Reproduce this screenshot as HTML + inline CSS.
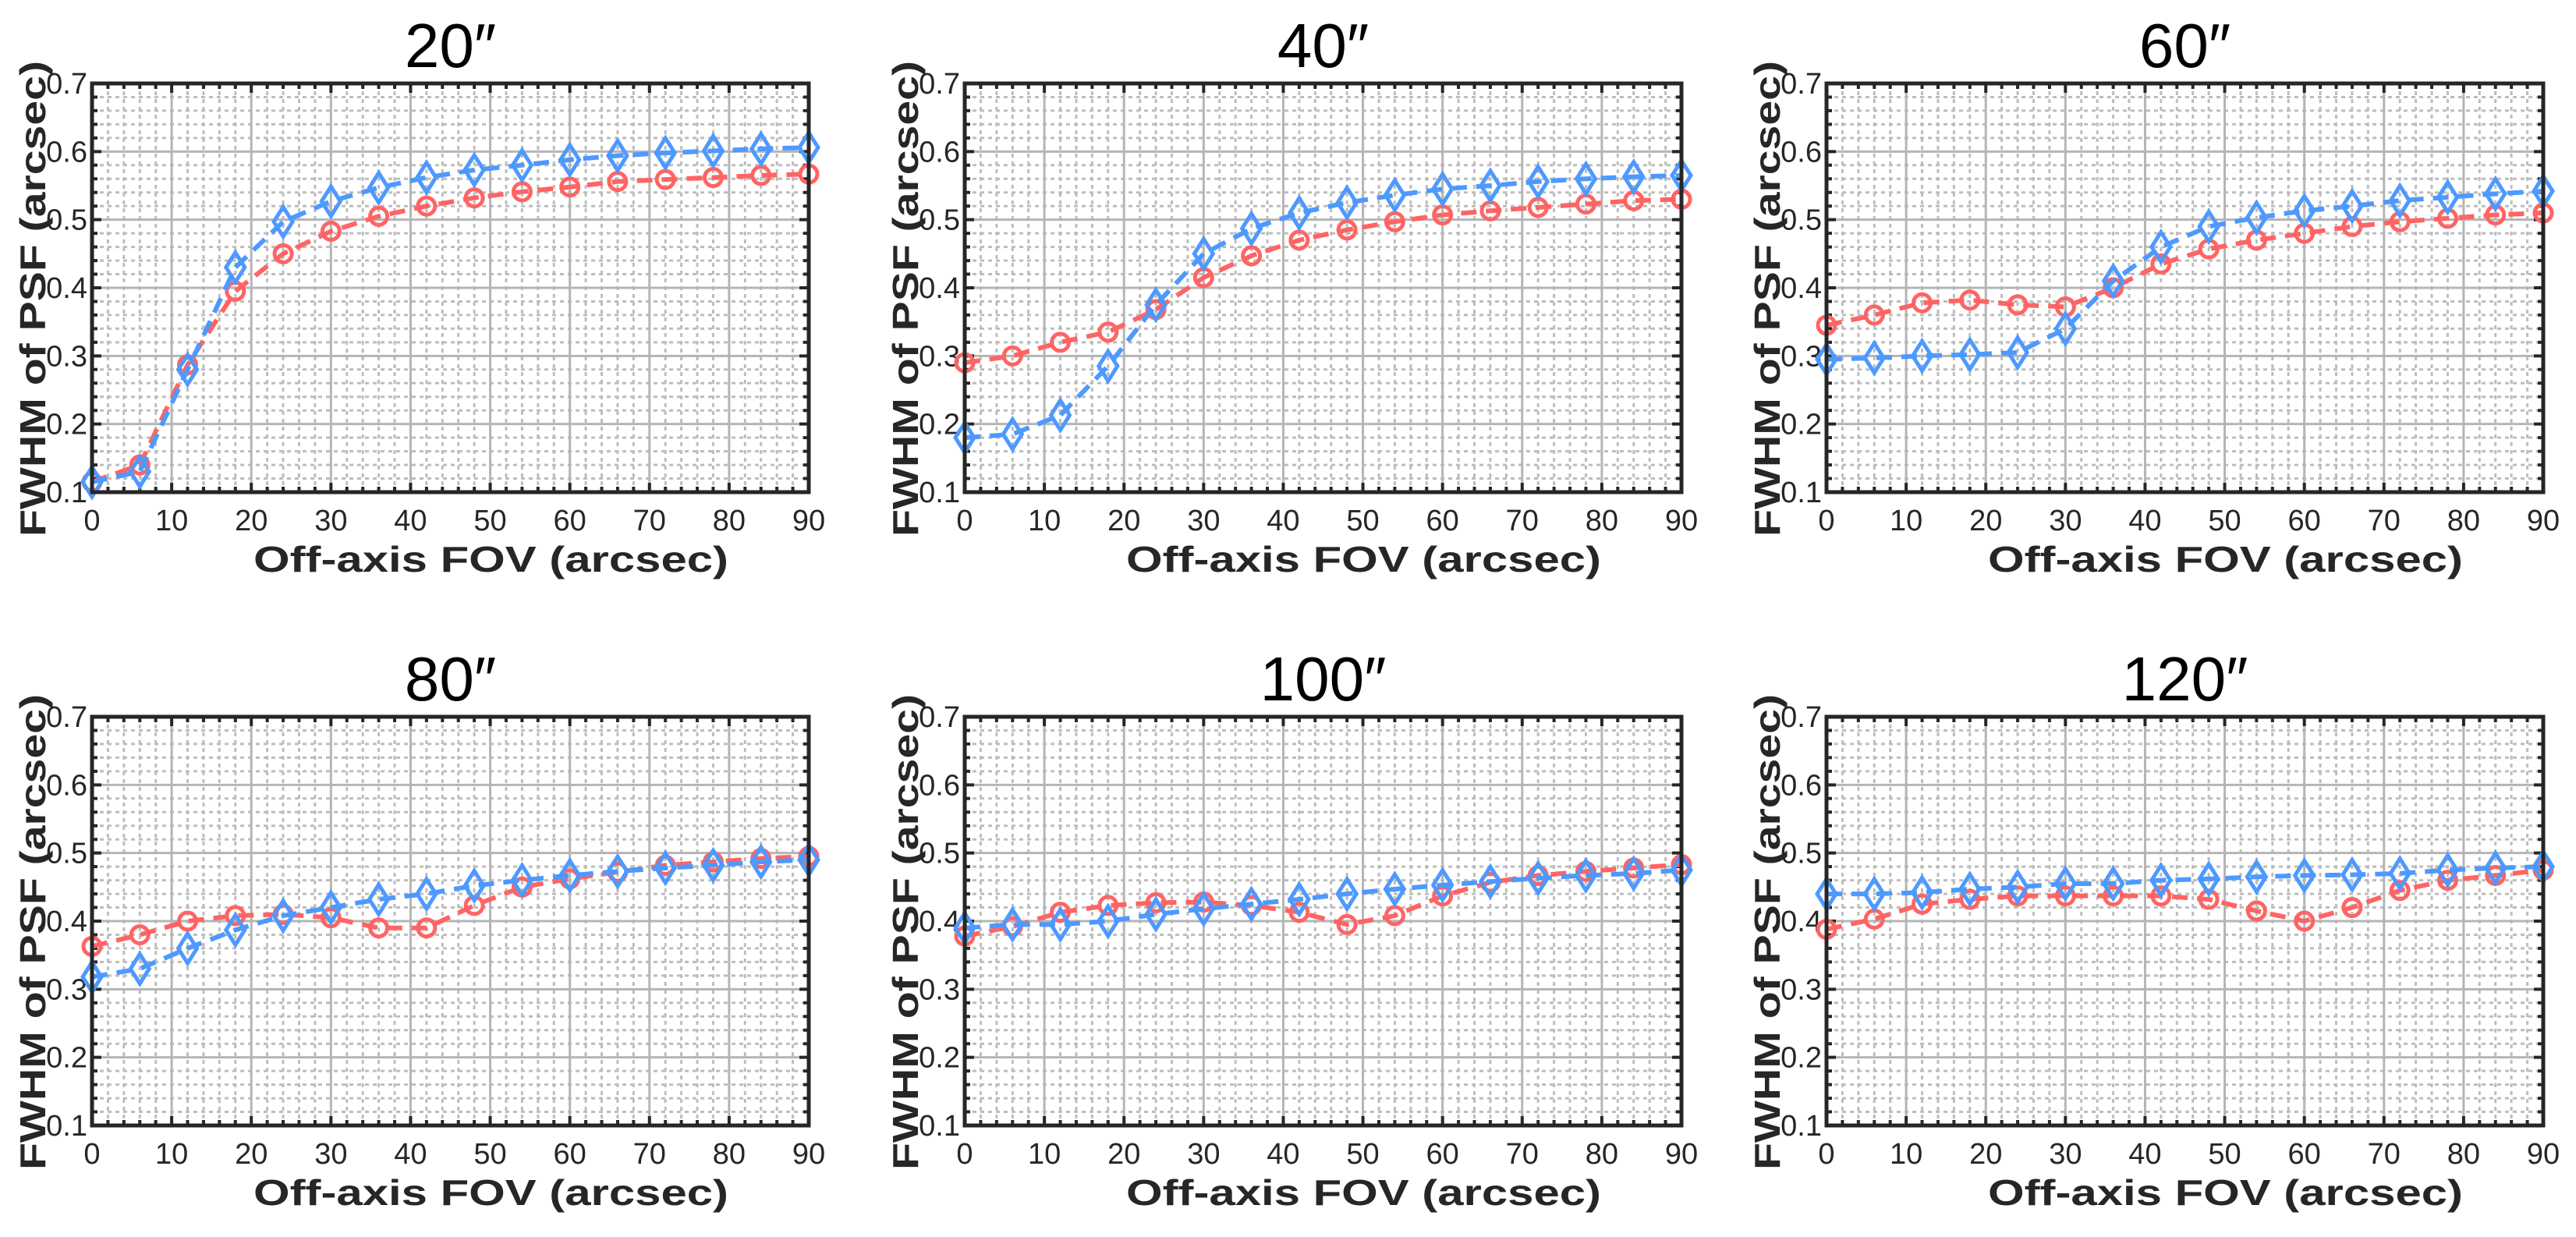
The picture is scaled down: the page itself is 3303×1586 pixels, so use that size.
<!DOCTYPE html>
<html><head><meta charset="utf-8"><style>
html,body{margin:0;padding:0;background:#fff}
svg text{font-family:"Liberation Sans",sans-serif;fill:#262626}
</style></head><body>
<svg id="fig" width="3303" height="1581" viewBox="0 0 3303 1581" xmlns="http://www.w3.org/2000/svg"></svg>
<script>
const titles = ["20″","40″","60″","80″","100″","120″"];
const xValues = [0,6,12,18,24,30,36,42,48,54,60,66,72,78,84,90];
const xTicks = [0,10,20,30,40,50,60,70,80,90];
const yTicks = [0.1,0.2,0.3,0.4,0.5,0.6,0.7];
const blue20 = [0.115,0.13,0.28,0.43,0.497,0.527,0.547,0.562,0.573,0.58,0.588,0.594,0.598,0.601,0.604,0.606];
const red20  = [0.115,0.14,0.287,0.395,0.45,0.483,0.505,0.52,0.532,0.541,0.548,0.556,0.559,0.562,0.565,0.567];
const blue40 = [0.18,0.185,0.213,0.285,0.375,0.45,0.487,0.51,0.525,0.536,0.545,0.55,0.556,0.56,0.563,0.565];
const red40  = [0.29,0.3,0.32,0.335,0.368,0.415,0.447,0.47,0.485,0.497,0.507,0.513,0.518,0.523,0.528,0.53];
const blue60 = [0.295,0.297,0.3,0.302,0.305,0.34,0.41,0.46,0.49,0.503,0.513,0.52,0.528,0.533,0.538,0.542];
const red60  = [0.345,0.36,0.378,0.382,0.375,0.372,0.4,0.435,0.457,0.47,0.48,0.49,0.497,0.502,0.507,0.51];
const blue80 = [0.318,0.33,0.36,0.387,0.408,0.42,0.432,0.44,0.452,0.46,0.467,0.473,0.478,0.482,0.487,0.49];
const red80  = [0.363,0.38,0.4,0.408,0.41,0.405,0.39,0.39,0.423,0.45,0.462,0.472,0.482,0.487,0.492,0.495];
const blue100 = [0.39,0.395,0.395,0.4,0.41,0.418,0.425,0.432,0.44,0.447,0.453,0.458,0.463,0.467,0.47,0.475];
const red100  = [0.378,0.392,0.413,0.423,0.427,0.428,0.423,0.413,0.395,0.408,0.437,0.457,0.467,0.473,0.478,0.483];
const blue120 = [0.44,0.44,0.442,0.447,0.45,0.455,0.455,0.46,0.462,0.465,0.467,0.468,0.47,0.475,0.478,0.48];
const red120  = [0.388,0.403,0.425,0.432,0.437,0.437,0.437,0.437,0.432,0.415,0.4,0.42,0.445,0.46,0.467,0.475];
const blueSeries=[blue20,blue40,blue60,blue80,blue100,blue120];
const redSeries=[red20,red40,red60,red80,red100,red120];

const NS="http://www.w3.org/2000/svg";
const svg=document.getElementById('fig');
function mk(tag,attrs,parent){const e=document.createElementNS(NS,tag);for(const k in attrs)e.setAttribute(k,attrs[k]);(parent||svg).appendChild(e);return e;}
const lefts=[118,1237,2342], tops=[107,919], W=919, H=524;
const BLUE="#4d99ff", RED="#ff6464";
for(let p=0;p<6;p++){
  const L=lefts[p%3], T=tops[Math.floor(p/3)];
  const g=mk('g',{});
  
  
  const sx=v=>L+v/90*W, sy=v=>T+H-(v-0.1)/0.6*H;
  // minor grid
  for(let i=1;i<45;i++){if(i%5===0)continue;const x=sx(i*2);
    const l=mk('line',{x1:x,y1:T,x2:x,y2:T+H,stroke:'#bdbdbd','stroke-width':3,'stroke-dasharray':'5 5'},g);
    }
  for(let i=1;i<30;i++){if(i%5===0)continue;const y=sy(0.1+i*0.02);
    const l=mk('line',{x1:L,y1:y,x2:L+W,y2:y,stroke:'#bdbdbd','stroke-width':3,'stroke-dasharray':'5 5'},g);
    }
  xTicks.forEach(v=>{const x=sx(v);
    const l=mk('line',{x1:x,y1:T,x2:x,y2:T+H,stroke:'#b5b5b5','stroke-width':3},g);
    
    const t=mk('text',{x:x,y:T+H+49,'font-size':38,'text-anchor':'middle'},g);t.textContent=v;
    });
  yTicks.forEach(v=>{const y=sy(v);
    const l=mk('line',{x1:L,y1:y,x2:L+W,y2:y,stroke:'#b5b5b5','stroke-width':3},g);
    
    const t=mk('text',{x:L-6,y:y+13,'font-size':38,'text-anchor':'end'},g);t.textContent=v.toFixed(1);
    });
  // ticks
  let d='';
  for(let i=0;i<=45;i++){const x=sx(i*2),len=(i%5===0)?12:7;d+=`M${x},${T+H}v${-len}M${x},${T}v${len}`;}
  for(let i=0;i<=30;i++){const y=sy(0.1+i*0.02),len=(i%5===0)?12:7;d+=`M${L},${y}h${len}M${L+W},${y}h${-len}`;}
  const tk=mk('path',{d:d,stroke:'#262626','stroke-width':4,fill:'none'},g);
  
  // series
  [[redSeries[p],RED,'red'],[blueSeries[p],BLUE,'blue']].forEach(([arr,c,nm])=>{
    const pts=arr.map((v,i)=>sx(xValues[i])+','+sy(v)).join(' ');
    const pl=mk('polyline',{points:pts,fill:'none',stroke:c,'stroke-width':6,'stroke-dasharray':'20 12'},g);
    
    arr.forEach((v,i)=>{const x=sx(xValues[i]),y=sy(v);let m;
      if(nm==='red'){m=mk('circle',{cx:x,cy:y,r:11,fill:'none',stroke:c,'stroke-width':5},g);}
      else{m=mk('path',{d:`M${x},${y-19}L${x+12},${y}L${x},${y+19}L${x-12},${y}Z`,fill:'none',stroke:c,'stroke-width':5},g);}
      });
  });
  const fr=mk('rect',{x:L,y:T,width:W,height:H,fill:'none',stroke:'#262626','stroke-width':5},g);
  
  const tt=mk('text',{x:L+W/2,y:T-21,'font-size':80,'text-anchor':'middle',style:'fill:#000'},g);tt.textContent=titles[p];
  
  const xl=mk('text',{x:L+207,y:T+H+102,'font-size':46,'font-weight':'bold',textLength:609,lengthAdjust:'spacingAndGlyphs'},g);xl.textContent='Off-axis FOV (arcsec)';
  
  const yx=L-60, yy=T+H+57;
  const yl=mk('text',{x:yx,y:yy,'font-size':46,'font-weight':'bold',textLength:610,lengthAdjust:'spacingAndGlyphs',transform:`rotate(-90 ${yx} ${yy})`},g);yl.textContent='FWHM of PSF (arcsec)';
  
}
</script>
</body></html>
